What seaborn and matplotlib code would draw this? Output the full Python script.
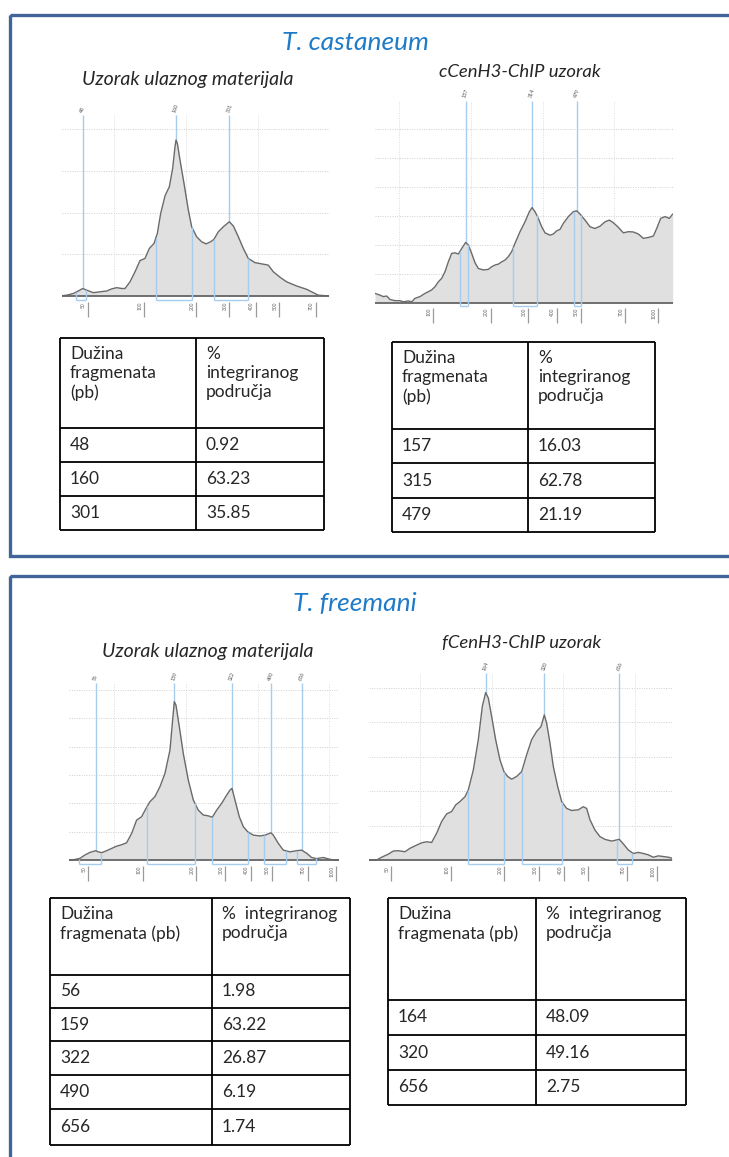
import numpy as np
import pandas as pd
import matplotlib.pyplot as plt
import seaborn as sns
from matplotlib.patches import Rectangle
from matplotlib.transforms import ScaledTranslation

sns.set_theme(style="white")
plt.rcParams['font.family'] = ['Lato', 'DejaVu Sans']

W, H, DPI = 729, 1157, 100

# ---------------- data ----------------
# x = migration time (s), y = fluorescence (FU); ladder gives the bp labels

# T. castaneum, input sample
tc_in_t = [40.0, 42.0, 44.0, 45.5, 46.8, 48.0, 50.0, 52.0, 54.0, 55.5, 57.0, 58.5, 59.5, 61.0,
           62.5, 64.0, 65.5, 66.8, 68.2, 69.2, 70.2, 71.5, 72.8, 73.8, 74.5, 74.8, 75.2, 76.0,
           77.2, 78.5, 79.5, 81.0, 82.5, 83.8, 85.2, 86.2, 87.5, 89.0, 90.8, 92.0, 93.5, 95.0,
           96.5, 98.5, 100.5, 102.5, 104.0, 106.0, 108.0, 111.0, 114.0, 116.0, 117.5, 119.0, 120.8]
tc_in_fu = [0.0, 0.2, 0.6, 1.2, 1.8, 1.4, 0.8, 1.0, 1.2, 1.7, 2.0, 1.8, 1.8, 3.4,
            5.8, 8.5, 9.0, 11.4, 12.6, 15.0, 19.8, 24.0, 26.2, 30.6, 35.8, 37.4, 36.6, 32.6,
            27.0, 20.6, 16.6, 14.2, 13.0, 12.5, 13.0, 13.6, 15.4, 16.6, 17.8, 16.8, 14.2, 11.4,
            9.0, 8.0, 7.7, 7.4, 5.8, 4.5, 3.4, 2.4, 1.6, 0.8, 0.2, 0.1, 0.0]
tc_in_ladder_bp = [50, 100, 200, 300, 400, 500, 700]
tc_in_ladder_t = [48.3, 65.2, 80.8, 90.7, 98.7, 105.7, 116.7]
tc_in_peak_bp = [48, 160, 301]
tc_in_peak_t = [46.8, 74.8, 90.8]
tc_in_reg_start = [44.7, 68.7, 86.2]
tc_in_reg_end = [47.7, 79.5, 96.5]

# T. castaneum, cCenH3-ChIP
tc_chip_t = [41.5, 43.0, 44.0, 45.0, 46.0, 47.5, 49.0, 50.0, 51.5, 52.5, 53.5, 55.0, 56.5, 58.5,
             59.5, 60.5, 61.5, 62.5, 63.5, 64.5, 65.5, 66.5, 67.5, 68.7, 69.5, 70.5, 71.5, 72.5,
             74.0, 75.5, 76.5, 77.5, 78.5, 79.5, 80.5, 81.5, 82.5, 83.5, 85.0, 86.5, 87.8, 88.6,
             89.5, 90.5, 91.5, 92.5, 94.0, 95.0, 96.0, 97.0, 98.0, 99.5, 101.0, 102.0, 103.0, 104.5,
             106.0, 107.5, 109.0, 110.5, 111.8, 113.0, 114.5, 116.0, 117.5, 119.0, 120.5, 122.0,
             123.5, 125.0, 126.0, 127.2, 128.5, 129.8, 130.8]
tc_chip_fu = [3.2, 2.6, 2.1, 2.3, 1.1, 0.7, 0.7, 0.3, 0.6, 0.3, 1.5, 2.1, 3.2, 4.4,
              5.5, 7.2, 8.4, 10.7, 14.1, 17.0, 17.2, 16.8, 18.7, 20.8, 19.9, 17.0, 13.8, 11.8,
              11.3, 11.5, 12.4, 13.0, 13.3, 14.1, 14.7, 15.9, 17.6, 20.5, 24.5, 27.9, 31.4, 32.8,
              31.4, 29.1, 26.2, 24.1, 23.3, 23.7, 24.8, 25.3, 27.4, 29.7, 31.4, 31.7, 30.6, 28.5,
              26.2, 25.6, 26.4, 27.9, 28.5, 27.6, 26.0, 24.1, 24.5, 24.4, 23.7, 22.2,
              22.5, 23.0, 25.6, 29.1, 29.7, 29.1, 30.6]
tc_chip_ladder_bp = [100, 200, 300, 400, 500, 700, 1000]
tc_chip_ladder_t = [58.8, 76.2, 87.5, 96.0, 103.2, 116.5, 126.5]
tc_chip_peak_bp = [157, 314, 479]
tc_chip_peak_t = [68.7, 88.6, 102.0]
tc_chip_reg_start = [67.0, 83.0, 101.2]
tc_chip_reg_end = [69.5, 90.0, 103.2]

# T. freemani, input sample
tf_in_t = [42.8, 44.5, 46.0, 47.5, 49.0, 50.7, 51.5, 52.5, 54.0, 55.5, 57.0, 58.5, 60.0, 61.5,
           63.0, 64.5, 65.8, 67.0, 68.5, 70.0, 71.5, 73.0, 73.8, 74.3, 74.8, 75.8, 77.0, 78.5,
           80.0, 81.5, 83.0, 84.5, 85.7, 87.0, 88.5, 90.0, 91.0, 91.6, 92.5, 93.8, 95.0, 96.3,
           98.0, 100.0, 101.5, 103.3, 104.0, 105.5, 107.0, 109.0, 111.0, 112.5, 114.0, 115.5,
           117.0, 119.0, 120.5, 122.0, 123.8]
tf_in_fu = [0.0, 0.2, 0.6, 1.8, 2.7, 3.3, 2.9, 2.6, 3.3, 4.1, 4.9, 5.4, 6.1, 9.4,
            14.1, 15.3, 18.2, 20.6, 22.4, 25.9, 30.6, 38.8, 49.4, 55.9, 54.7, 47.1, 37.6, 28.2,
            21.2, 17.6, 15.9, 15.6, 15.1, 17.6, 20.0, 22.9, 24.7, 25.3, 21.2, 15.3, 11.8, 10.0,
            8.8, 8.5, 8.8, 9.6, 8.8, 5.9, 3.5, 2.9, 3.3, 3.5, 2.4, 0.9,
            0.5, 0.9, 0.4, 0.0, 0.0]
tf_in_ladder_bp = [50, 100, 200, 300, 400, 500, 700, 1000]
tf_in_ladder_t = [48.5, 65.0, 80.8, 89.5, 97.3, 103.5, 114.3, 122.8]
tf_in_peak_bp = [56, 159, 322, 490, 656]
tf_in_peak_t = [50.7, 74.3, 91.6, 103.3, 112.5]
tf_in_reg_start = [45.8, 66.2, 85.7, 101.2, 111.0]
tf_in_reg_end = [52.3, 80.5, 96.3, 107.7, 116.7]

# T. freemani, fCenH3-ChIP
tf_chip_t = [41.2, 43.5, 45.0, 47.0, 48.5, 50.0, 52.0, 53.5, 55.0, 57.0, 58.5, 60.0, 61.5, 63.0,
             64.5, 66.0, 67.2, 68.5, 70.0, 71.0, 72.5, 74.0, 75.2, 76.2, 77.0, 78.0, 79.2, 80.5,
             81.7, 82.8, 84.0, 85.5, 87.0, 88.5, 90.0, 91.5, 92.8, 93.8, 94.5, 95.5, 96.5, 97.8,
             99.0, 100.5, 102.0, 104.0, 105.5, 106.5, 107.5, 109.0, 110.5, 112.0, 114.0, 116.3,
             117.5, 119.0, 120.5, 122.0, 123.5, 125.0, 126.5, 128.0, 129.5, 131.0, 132.2]
tf_chip_fu = [0.0, 0.0, 0.8, 1.7, 2.6, 2.7, 2.4, 3.4, 4.1, 5.0, 5.3, 5.1, 7.8, 11.2,
              13.4, 14.1, 16.0, 17.0, 18.4, 20.4, 26.2, 35.0, 44.7, 48.7, 47.1, 41.7, 35.0, 29.1,
              25.7, 24.3, 23.5, 24.3, 25.7, 30.6, 35.0, 37.4, 38.8, 42.2, 39.8, 34.0, 27.2, 21.4,
              17.0, 15.0, 14.4, 14.6, 15.5, 15.0, 11.7, 8.7, 6.8, 6.0, 5.5, 6.0,
              4.7, 2.9, 1.9, 2.2, 1.9, 1.5, 0.8, 1.2, 1.0, 0.8, 0.5]
tf_chip_ladder_bp = [50, 100, 200, 300, 400, 500, 700, 1000]
tf_chip_ladder_t = [47.8, 65.8, 81.7, 92.2, 99.8, 107.0, 118.7, 127.7]
tf_chip_peak_bp = [164, 320, 656]
tf_chip_peak_t = [76.2, 93.8, 116.3]
tf_chip_reg_start = [71.0, 87.0, 115.5]
tf_chip_reg_end = [81.7, 99.0, 120.2]

# tables
tc_in_tab_bp = ['48', '160', '301']
tc_in_tab_pct = ['0.92', '63.23', '35.85']
tc_chip_tab_bp = ['157', '315', '479']
tc_chip_tab_pct = ['16.03', '62.78', '21.19']
tf_in_tab_bp = ['56', '159', '322', '490', '656']
tf_in_tab_pct = ['1.98', '63.22', '26.87', '6.19', '1.74']
tf_chip_tab_bp = ['164', '320', '656']
tf_chip_tab_pct = ['48.09', '49.16', '2.75']

# ---------------- figure ----------------
fig = plt.figure(figsize=(W / DPI, H / DPI), dpi=DPI)
fig.patch.set_facecolor('white')

bg = fig.add_axes([0, 0, 1, 1], zorder=0)
bg.set_xlim(0, W)
bg.set_ylim(H, 0)
bg.axis('off')

BOX = '#41659a'
TITLE = '#1f7bc8'
MARK = '#a6ccf0'

bg.add_patch(Rectangle((10.5, 14.5), 740, 541, fill=False, ec=BOX, lw=2.4))
bg.add_patch(Rectangle((10.5, 575.5), 740, 620, fill=False, ec=BOX, lw=2.4))

bg.text(355, 42, 'T. castaneum', color=TITLE, fontsize=19, style='italic', ha='center', va='center')
bg.text(355, 604, 'T. freemani', color=TITLE, fontsize=19, style='italic', ha='center', va='center')
bg.text(188, 79, 'Uzorak ulaznog materijala', fontsize=14, style='italic', ha='center', va='center')
bg.text(520, 72, 'cCenH3-ChIP uzorak', fontsize=13.3, style='italic', ha='center', va='center')
bg.text(208, 652, 'Uzorak ulaznog materijala', fontsize=14, style='italic', ha='center', va='center')
bg.text(522, 643, 'fCenH3-ChIP uzorak', fontsize=13.3, style='italic', ha='center', va='center')


def electropherogram(rect, xlim, ylim, t, fu, ladder_t, ladder_bp, peak_t, peak_bp,
                     reg_s, reg_e, grid_y, grid_x):
    x0, x1, y0, y1 = rect
    ax = fig.add_axes([x0 / W, 1 - y1 / H, (x1 - x0) / W, (y1 - y0) / H], zorder=1)
    ax.set_facecolor('none')
    ax.set_xlim(*xlim)
    ax.set_ylim(*ylim)
    for s in ax.spines.values():
        s.set_visible(False)

    ax.hlines(grid_y, xlim[0], xlim[1], colors='#cfcfcf', linestyles=(0, (1, 1.5)), lw=0.7, zorder=0)
    ax.vlines(grid_x, 0, ylim[1], colors='#dcdcdc', linestyles=(0, (1, 1.5)), lw=0.7, zorder=0)

    # peak markers (hidden by the fill below the curve)
    ax.vlines(peak_t, 0, ylim[1], colors=MARK, lw=1.0, zorder=1)
    for pt, pb in zip(peak_t, peak_bp):
        ax.annotate(str(pb), (pt, ylim[1]), xytext=(-1, 2), textcoords='offset points',
                    rotation=70, rotation_mode='anchor', ha='left', va='center',
                    fontsize=3.8, color='#555555', annotation_clip=False)

    ax.fill_between(t, 0, fu, color='#e0e0e0', lw=0, zorder=2)
    sns.lineplot(x=t, y=fu, ax=ax, color='#6a6a6a', linewidth=1.0, zorder=3)
    ax.axhline(0, color='#666666', lw=1.3, zorder=3)

    # integration regions
    rb = ylim[0] * 0.6
    for s, e in zip(reg_s, reg_e):
        ax.vlines([s, e], rb, np.interp([s, e], t, fu), colors=MARK, lw=1.0, zorder=4)
        ax.hlines(rb, s, e, colors=MARK, lw=1.0, zorder=4)

    ax.set_xticks(ladder_t)
    ax.set_xticklabels([str(b) for b in ladder_bp], rotation=90, fontsize=3.5, color='#666666')
    ax.tick_params(axis='x', bottom=True, length=11, width=0.9, color='#9a9a9a',
                   pad=-11, direction='out')
    for lab in ax.get_xticklabels():
        lab.set_transform(lab.get_transform() + ScaledTranslation(-4 / DPI, 0, fig.dpi_scale_trans))
    ax.set_yticks([])
    ax.set_xlabel('')
    ax.set_ylabel('')
    return ax


electropherogram((61.7, 329.3, 115, 302), (40.5, 120.8), (-1.44, 43.4),
                 tc_in_t, tc_in_fu, tc_in_ladder_t, tc_in_ladder_bp, tc_in_peak_t, tc_in_peak_bp,
                 tc_in_reg_start, tc_in_reg_end, [10, 20, 30, 40], [56.3, 77.8, 99.3, 120.8])
electropherogram((375, 672.7, 100.7, 308), (41.5, 130.8), (-1.83, 69.7),
                 tc_chip_t, tc_chip_fu, tc_chip_ladder_t, tc_chip_ladder_bp, tc_chip_peak_t,
                 tc_chip_peak_bp, tc_chip_reg_start, tc_chip_reg_end,
                 [10, 20, 30, 40, 50, 60], [48.8, 70.3, 91.8, 113.3])
electropherogram((69.3, 339.3, 683, 866), (42.8, 123.8), (-2.1, 62.5),
                 tf_in_t, tf_in_fu, tf_in_ladder_t, tf_in_ladder_bp, tf_in_peak_t, tf_in_peak_bp,
                 tf_in_reg_start, tf_in_reg_end, [10, 20, 30, 40, 50, 60], [56.3, 77.8, 99.3, 120.8])
electropherogram((369, 672.3, 673, 866), (41.2, 132.2), (-1.75, 54.4),
                 tf_chip_t, tf_chip_fu, tf_chip_ladder_t, tf_chip_ladder_bp, tf_chip_peak_t,
                 tf_chip_peak_bp, tf_chip_reg_start, tf_chip_reg_end,
                 [10, 20, 30, 40, 50], [56.5, 78.0, 99.5, 121.0])


def table(xs, ys, head_l, head_r, col_l, col_r):
    x0, xm, x1 = xs
    bg.hlines(ys, x0, x1, colors='black', lw=1.3)
    bg.vlines([x0, xm, x1], ys[0], ys[-1], colors='black', lw=1.3)
    bg.text(x0 + 10, ys[0] + 8, head_l, fontsize=12.5, va='top', linespacing=1.25)
    bg.text(xm + 10, ys[0] + 8, head_r, fontsize=12.5, va='top', linespacing=1.25)
    for i, (a, b) in enumerate(zip(col_l, col_r)):
        yc = (ys[i + 1] + ys[i + 2]) / 2
        bg.text(x0 + 10, yc, a, fontsize=12.5, va='center')
        bg.text(xm + 10, yc, b, fontsize=12.5, va='center')


table((60, 196, 324), [338, 428, 462, 496, 530],
      'Dužina\nfragmenata\n(pb)', '%\nintegriranog\npodručja', tc_in_tab_bp, tc_in_tab_pct)
table((392, 528, 655), [342, 429, 463, 498, 532],
      'Dužina\nfragmenata\n(pb)', '%\nintegriranog\npodručja', tc_chip_tab_bp, tc_chip_tab_pct)
table((50, 212, 350), [898, 975, 1008, 1041, 1075, 1109, 1145],
      'Dužina\nfragmenata (pb)', '%  integriranog\npodručja', tf_in_tab_bp, tf_in_tab_pct)
table((388, 536, 686), [898, 1000, 1035, 1070, 1105],
      'Dužina\nfragmenata (pb)', '%  integriranog\npodručja', tf_chip_tab_bp, tf_chip_tab_pct)

fig.savefig('out.png', dpi=DPI)
